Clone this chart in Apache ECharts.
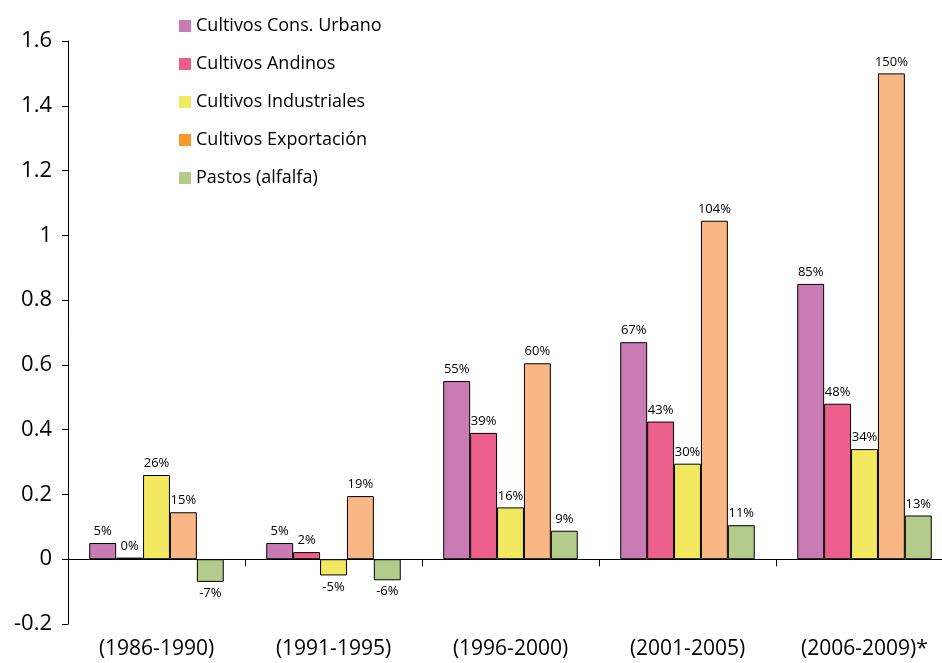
<!DOCTYPE html>
<html>
<head>
<meta charset="utf-8">
<script src="https://cdn.jsdelivr.net/npm/echarts@6/dist/echarts.min.js"></script>
<style>
  html, body { margin: 0; padding: 0; background: #fff; }
  #chart { width: 942px; height: 663px; }
</style>
</head>
<body>
<div id="chart"></div>
<script>
const categories = ['(1986-1990)', '(1991-1995)', '(1996-2000)', '(2001-2005)', '(2006-2009)*']

const seriesNames = ['Cultivos Cons. Urbano', 'Cultivos Andinos', 'Cultivos Industriales', 'Cultivos Exportación', 'Pastos (alfalfa)']

const consUrbano = [0.05, 0.05, 0.55, 0.67, 0.85]
const andinos = [0.005, 0.022, 0.39, 0.425, 0.48]
const industriales = [0.26, -0.05, 0.16, 0.295, 0.34]
const exportacion = [0.145, 0.195, 0.605, 1.045, 1.5]
const pastos = [-0.07, -0.065, 0.088, 0.105, 0.135]

const consUrbanoLabels = ['5%', '5%', '55%', '67%', '85%']
const andinosLabels = ['0%', '2%', '39%', '43%', '48%']
const industrialesLabels = ['26%', '-5%', '16%', '30%', '34%']
const exportacionLabels = ['15%', '19%', '60%', '104%', '150%']
const pastosLabels = ['-7%', '-6%', '9%', '11%', '13%']

const barColors = ['#C97BB4', '#EC5F8B', '#F2E960', '#F8B784', '#B3CC8B']
const legendColors = ['#C97BB4', '#EC5F8B', '#F2E960', '#F39A2B', '#B3CC8B']

const values = [consUrbano, andinos, industriales, exportacion, pastos]
const labels = [consUrbanoLabels, andinosLabels, industrialesLabels, exportacionLabels, pastosLabels]

const chart = echarts.init(document.getElementById('chart'))

const series = seriesNames.map((name, i) => ({
  name: name,
  type: 'bar',
  barGap: '0%',
  barCategoryGap: '24%',
  itemStyle: {
    color: barColors[i],
    borderColor: '#000',
    borderWidth: 1
  },
  data: values[i].map((v, j) => ({
    value: v,
    label: {
      show: true,
      position: v < 0 ? 'bottom' : 'top',
      distance: 5,
      formatter: labels[i][j],
      color: '#000',
      fontSize: 13,
      fontFamily: 'Open Sans'
    }
  }))
}))

const option = {
  animation: false,
  backgroundColor: '#fff',
  legend: {
    orient: 'vertical',
    left: 174,
    top: 12,
    itemWidth: 12,
    itemHeight: 12,
    itemGap: 20,
    icon: 'rect',
    textStyle: {
      color: '#000',
      fontSize: 18,
      lineHeight: 18,
      fontFamily: 'Open Sans'
    },
    data: seriesNames.map((name, i) => ({
      name: name,
      itemStyle: { color: legendColors[i], borderWidth: 0 }
    }))
  },
  grid: {
    left: 68,
    right: -11,
    top: 41,
    bottom: 39,
    containLabel: false,
    outerBoundsMode: 'none'
  },
  xAxis: {
    type: 'category',
    data: categories,
    axisLine: { onZero: true, lineStyle: { color: '#000', width: 1 } },
    axisTick: { show: true, length: 7, lineStyle: { color: '#000' } },
    axisLabel: {
      color: '#000',
      fontSize: 21,
      fontFamily: 'Open Sans',
      margin: 15
    }
  },
  yAxis: {
    type: 'value',
    min: -0.2,
    max: 1.6,
    interval: 0.2,
    axisLine: { show: true, lineStyle: { color: '#000', width: 1 } },
    axisTick: { show: true, length: 6, lineStyle: { color: '#000' } },
    splitLine: { show: false },
    axisLabel: {
      color: '#000',
      fontSize: 22,
      fontFamily: 'Open Sans',
      margin: 16,
      formatter: v => String(Math.round(v * 10) / 10)
    }
  },
  series: series
}

chart.setOption(option)
</script>
</body>
</html>
